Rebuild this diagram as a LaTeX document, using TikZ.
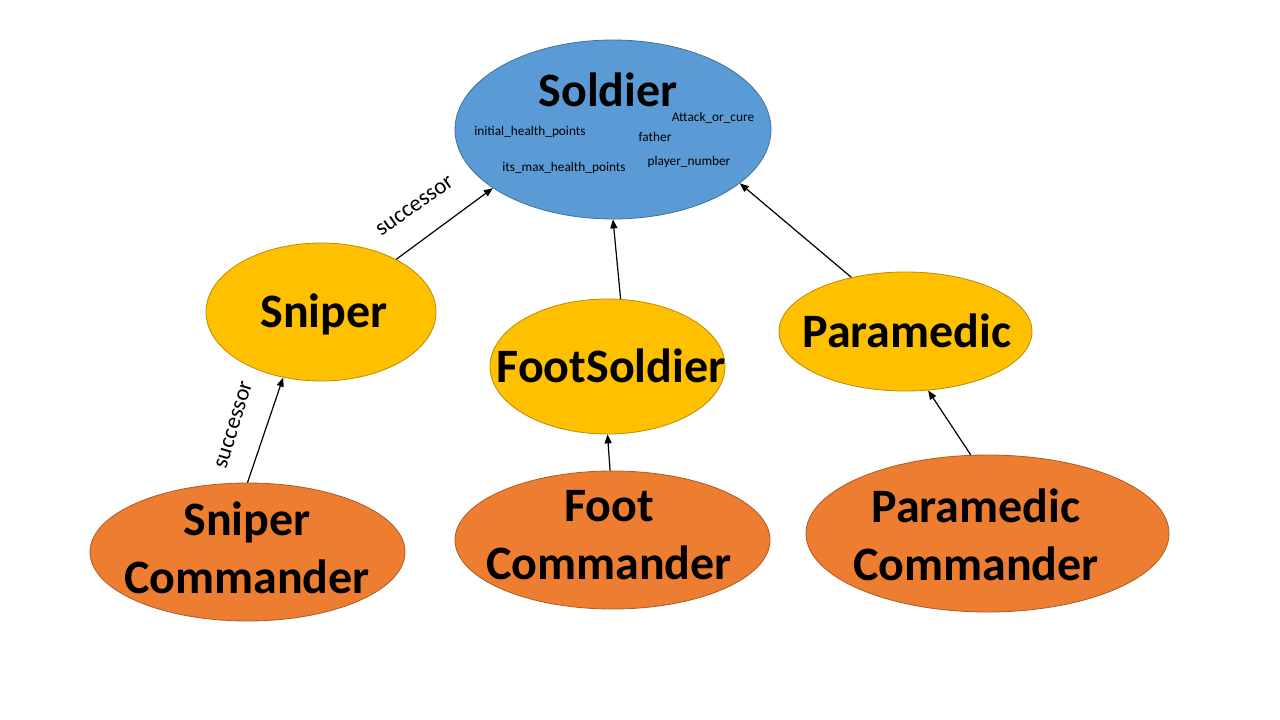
\documentclass[tikz,border=0pt]{standalone}
\usepackage{fontspec}
\setmainfont{Carlito}
\usetikzlibrary{shapes.geometric,arrows.meta}
\definecolor{blueF}{HTML}{5B9BD5}
\definecolor{blueD}{HTML}{41719C}
\definecolor{yelF}{HTML}{FFC000}
\definecolor{yelD}{HTML}{BC8C00}
\definecolor{orgF}{HTML}{ED7D31}
\definecolor{orgD}{HTML}{AE5A21}
\tikzset{
  ell/.style={ellipse, inner sep=0pt, line width=0.8pt},
  blueell/.style={ell, fill=blueF, draw=blueD},
  yelell/.style={ell, fill=yelF, draw=yelD},
  orgell/.style={ell, fill=orgF, draw=orgD},
  big/.style={font=\bfseries\fontsize{48}{58}\selectfont, align=center, inner sep=0pt},
  attr/.style={font=\fontsize{13.3}{15}\selectfont, inner sep=0pt},
  succ/.style={font=\fontsize{23}{27}\selectfont, inner sep=0pt},
  arr/.style={line width=1.2pt, -{Triangle[length=9pt,width=7pt]}}
}
\begin{document}
\begin{tikzpicture}[x=1pt,y=-1pt]
\useasboundingbox[fill=white] (0,0) rectangle (1280,720);
% ellipses
\node[blueell, minimum width=316, minimum height=179] (soldier) at (613,129.5) {};
\node[yelell, minimum width=230, minimum height=138] (sniper) at (321,312) {};
\node[yelell, minimum width=235, minimum height=135] (foot) at (607.5,366.5) {};
\node[yelell, minimum width=253, minimum height=119] (para) at (905.5,331.5) {};
\node[orgell, minimum width=315, minimum height=138] (snipercmd) at (247.5,552) {};
\node[orgell, minimum width=315, minimum height=138] (footcmd) at (612.5,540) {};
\node[orgell, minimum width=363, minimum height=157] (paracmd) at (987.5,533.5) {};
% big labels
\node[big] (tsoldier) at (608,89.5) {Soldier};
\node[big] (tsniper) at (324,314) {Sniper};
\node[big] (tfoot) at (611,366) {FootSoldier};
\node[big] (tpara) at (907,331) {Paramedic};
\node[big] (tsnipercmd) at (247,547.5) {Sniper\\Commander};
\node[big] (tfootcmd) at (609,535) {Foot\\Commander};
\node[big] (tparacmd) at (976,535) {Paramedic\\Commander};
% attributes
\node[attr] (a1) at (530,132) {initial\_health\_points};
\node[attr] (a2) at (564,168) {its\_max\_health\_points};
\node[attr] (a3) at (655,137) {father};
\node[attr] (a4) at (713,118) {Attack\_or\_cure};
\node[attr] (a5) at (689,162) {player\_number};
% arrows
\draw[arr] (sniper.35.7) -- (soldier.206.2);
\draw[arr] (snipercmd.90) -- (sniper.240.3);
\draw[arr] (foot.79.5) -- (soldier.270);
\draw[arr] (footcmd.92.9) -- (foot.270);
\draw[arr] (para.135) -- (soldier.337.7);
\draw[arr] (paracmd.102.3) -- (para.291.7);
% successor labels
\node[succ, rotate=35] (s1) at (415,206) {successor};
\node[succ, rotate=73] (s2) at (234,425) {successor};
\end{tikzpicture}
\end{document}
